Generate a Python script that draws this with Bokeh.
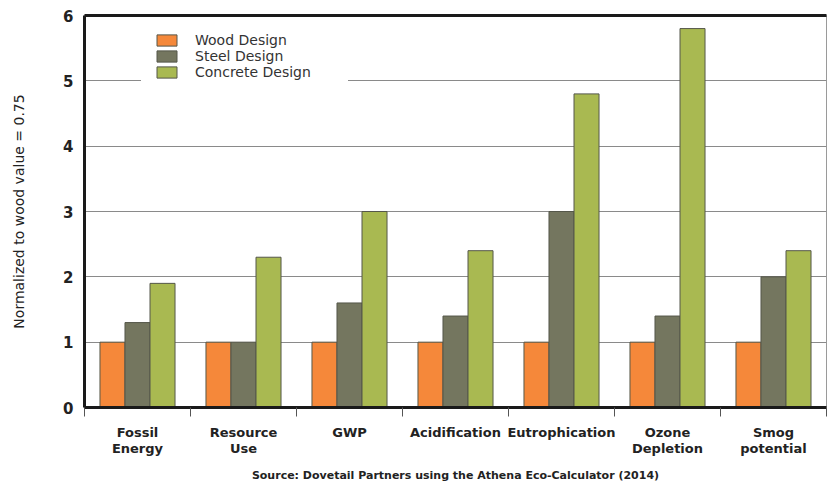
from bokeh.plotting import figure
from bokeh.models import (ColumnDataSource, FixedTicker, LinearAxis, Legend, LegendItem,
                          Range1d)
from bokeh.transform import dodge
from bokeh.embed import file_html
from bokeh.resources import INLINE

categories = ["Fossil\nEnergy", "Resource\nUse", "GWP", "Acidification",
              "Eutrophication", "Ozone\nDepletion", "Smog\npotential"]
wood = [1, 1, 1, 1, 1, 1, 1]
steel = [1.3, 1.0, 1.6, 1.4, 3.0, 1.4, 2.0]
concrete = [1.9, 2.3, 3.0, 2.4, 4.8, 5.8, 2.4]
series_names = ["Wood Design", "Steel Design", "Concrete Design"]
y_ticks = [0, 1, 2, 3, 4, 5, 6]
source_text = "Source: Dovetail Partners using the Athena Eco-Calculator (2014)"

FONT = "DejaVu Sans"
colors = ["#F5883A", "#74765F", "#A9B951"]

n = len(categories)
centers = [i + 0.5 for i in range(n)]
src = ColumnDataSource(dict(x=centers, wood=wood, steel=steel, concrete=concrete))

p = figure(width=831, height=488, output_backend="svg", toolbar_location=None,
           x_range=Range1d(0, n), y_range=Range1d(0, 6),
           min_border_left=84, min_border_right=5, min_border_top=15, min_border_bottom=81,
           x_axis_location=None, y_axis_location=None)
p.background_fill_color = "white"
p.border_fill_color = "white"
p.outline_line_color = "#9a9a9a"
p.outline_line_width = 1

bw = 0.236
renderers = []
for key, off, col in zip(["wood", "steel", "concrete"], [-bw, 0, bw], colors):
    r = p.vbar(x=dodge("x", off, range=p.x_range), top=key, bottom=0, width=bw,
               source=src, fill_color=col, line_color="#55574a", line_width=1)
    renderers.append(r)

# y axis
yax = LinearAxis(ticker=FixedTicker(ticks=y_ticks))
yax.axis_line_width = 3
yax.axis_line_color = "#1a1a1a"
yax.major_tick_out = 0
yax.major_tick_in = 0
yax.minor_tick_line_color = None
yax.major_label_text_font = FONT
yax.major_label_text_font_style = "bold"
yax.major_label_text_font_size = "15px"
yax.major_label_text_color = "#222222"
yax.major_label_standoff = 11
yax.axis_label = "Normalized to wood value = 0.75"
yax.axis_label_text_font = FONT
yax.axis_label_text_font_style = "normal"
yax.axis_label_text_font_size = "14px"
yax.axis_label_text_color = "#222222"
yax.axis_label_standoff = 33
p.add_layout(yax, "left")

# x axis
xax = LinearAxis(ticker=FixedTicker(ticks=centers, minor_ticks=list(range(n + 1))))
xax.major_label_overrides = {c: lab for c, lab in zip(centers, categories)}
xax.axis_line_width = 3
xax.axis_line_color = "#1a1a1a"
xax.major_tick_out = 0
xax.major_tick_in = 0
xax.minor_tick_out = 9
xax.minor_tick_in = 0
xax.minor_tick_line_color = "#555555"
xax.minor_tick_line_width = 1
xax.major_label_text_font = FONT
xax.major_label_text_font_style = "bold"
xax.major_label_text_font_size = "13px"
xax.major_label_text_line_height = 1.1
xax.major_label_text_color = "#222222"
xax.major_label_standoff = 8
xax.axis_label = source_text
xax.axis_label_text_font = FONT
xax.axis_label_text_font_style = "bold"
xax.axis_label_text_font_size = "11px"
xax.axis_label_text_color = "#222222"
xax.axis_label_standoff = 10
p.add_layout(xax, "below")

# top thick border
tax = LinearAxis(ticker=FixedTicker(ticks=[]))
tax.axis_line_width = 3
tax.axis_line_color = "#1a1a1a"
tax.major_tick_out = 0
tax.minor_tick_out = 0
tax.major_label_text_font_size = "0px"
p.add_layout(tax, "above")

p.xgrid.visible = False
p.ygrid.ticker = FixedTicker(ticks=y_ticks)
p.ygrid.grid_line_color = "#8a8a8a"
p.ygrid.grid_line_width = 1

legend = Legend(items=[LegendItem(label=nm, renderers=[r]) for nm, r in zip(series_names, renderers)],
                location=(57, 314))
legend.padding = 12
legend.margin = 0
legend.spacing = 0
legend.glyph_width = 25
legend.glyph_height = 14
legend.label_height = 14
legend.label_width = 140
legend.label_standoff = 16
legend.label_text_font = FONT
legend.label_text_font_size = "14px"
legend.label_text_color = "#333333"
legend.border_line_color = "white"
legend.border_line_width = 1
legend.background_fill_color = "white"
legend.background_fill_alpha = 1
p.add_layout(legend, "center")

open("out.html", "w").write(file_html(p, INLINE))
